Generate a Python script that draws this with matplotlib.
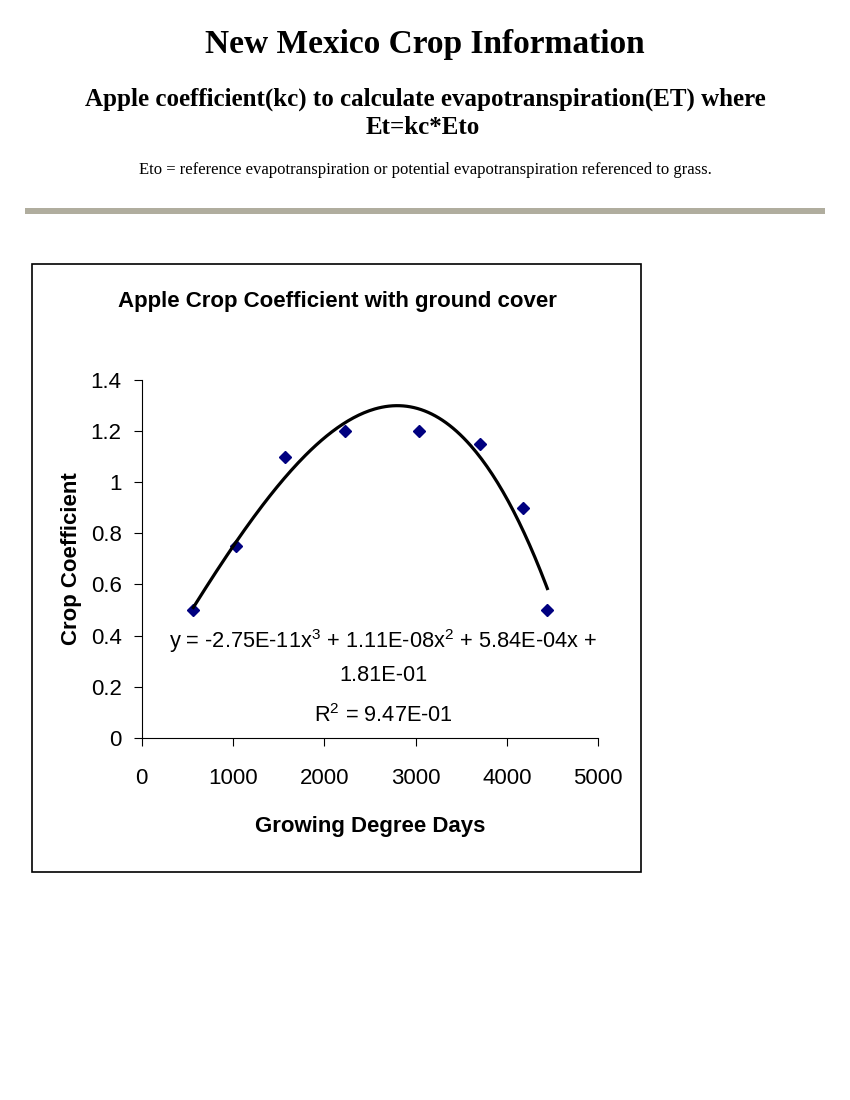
import numpy as np
import matplotlib
matplotlib.use('Agg')
import matplotlib.pyplot as plt
from matplotlib.patches import Rectangle

# data
gdd = [565, 1033, 1570, 2227, 3040, 3705, 4180, 4442]
kc = [0.50, 0.75, 1.10, 1.20, 1.20, 1.15, 0.90, 0.50]
# trendline coefficients printed on the chart (x^3, x^2, x, const)
trend_coef = [-2.75e-11, 1.11e-08, 5.84e-04, 1.81e-01]
x_ticks = [0, 1000, 2000, 3000, 4000, 5000]
y_ticks = [0, 0.2, 0.4, 0.6, 0.8, 1, 1.2, 1.4]
y_tick_labels = ['0', '0.2', '0.4', '0.6', '0.8', '1', '1.2', '1.4']

plt.rcParams['font.family'] = ['Liberation Sans', 'DejaVu Sans']
plt.rcParams['mathtext.fontset'] = 'custom'
plt.rcParams['mathtext.rm'] = 'Liberation Sans'
plt.rcParams['mathtext.default'] = 'regular'

W, H = 850, 1100
fig = plt.figure(figsize=(8.5, 11), dpi=100)

# page header (serif, like the web page)
serif = ['Liberation Serif', 'DejaVu Serif']
fig.text(0.5, 1 - 45 / H, 'New Mexico Crop Information', ha='center', va='center',
         fontsize=24, fontweight='bold', family=serif)
fig.text(0.5, 1 - 99 / H, 'Apple coefficient(kc) to calculate evapotranspiration(ET) where',
         ha='center', va='center', fontsize=18, fontweight='bold', family=serif)
fig.text(423 / W, 1 - 127 / H, 'Et=kc*Eto', ha='center', va='center',
         fontsize=18, fontweight='bold', family=serif)
fig.text(0.5, 1 - 170 / H,
         'Eto = reference evapotranspiration or potential evapotranspiration referenced to grass.',
         ha='center', va='center', fontsize=12, family=serif)

# grey rule
fig.add_artist(Rectangle((25 / W, 1 - 213.5 / H), 800 / W, 5.5 / H,
                         transform=fig.transFigure, facecolor='#b0ad9e', edgecolor='none'))

# chart frame
fig.add_artist(Rectangle((32 / W, 1 - 872 / H), 609 / W, 608 / H,
                         transform=fig.transFigure, facecolor='none',
                         edgecolor='black', linewidth=1.2))

fig.text(337 / W, 1 - 301 / H, 'Apple Crop Coefficient with ground cover',
         ha='center', va='center', fontsize=16, fontweight='bold')

ax = fig.add_axes([141.7 / W, 1 - 737.7 / H, 456.6 / W, 357.7 / H])
ax.plot(gdd, kc, linestyle='none', marker='D', markersize=6.3, color='#000080')

xs = np.linspace(min(gdd), max(gdd), 200)
ax.plot(xs, np.polyval(trend_coef, xs), color='black', linewidth=2.3)

ax.set_xlim(0, 5000)
ax.set_ylim(0, 1.4)
ax.set_xticks(x_ticks)
ax.set_yticks(y_ticks)
ax.set_yticklabels(y_tick_labels)
ax.tick_params(direction='out', length=6, width=0.8, labelsize=16)
ax.tick_params(axis='x', pad=16)
ax.tick_params(axis='y', pad=8.5)
for s in ['top', 'right']:
    ax.spines[s].set_visible(False)
for s in ['left', 'bottom']:
    ax.spines[s].set_linewidth(0.8)

ax.set_xlabel('Growing Degree Days', fontsize=16, fontweight='bold', labelpad=19)
ax.set_ylabel('Crop Coefficient', fontsize=16, fontweight='bold', labelpad=6.5)

ax.text(0.5296, 0.270, r'y = -2.75E-11x$^{3}$ + 1.11E-08x$^{2}$ + 5.84E-04x +',
        transform=ax.transAxes, ha='center', va='center', fontsize=15.7)
ax.text(0.5296, 0.1725, '1.81E-01', transform=ax.transAxes, ha='center', va='center', fontsize=15.7)
ax.text(0.5296, 0.0607, r'R$^{2}$ = 9.47E-01', transform=ax.transAxes,
        ha='center', va='center', fontsize=15.7)

fig.savefig('out.png', dpi=100)
